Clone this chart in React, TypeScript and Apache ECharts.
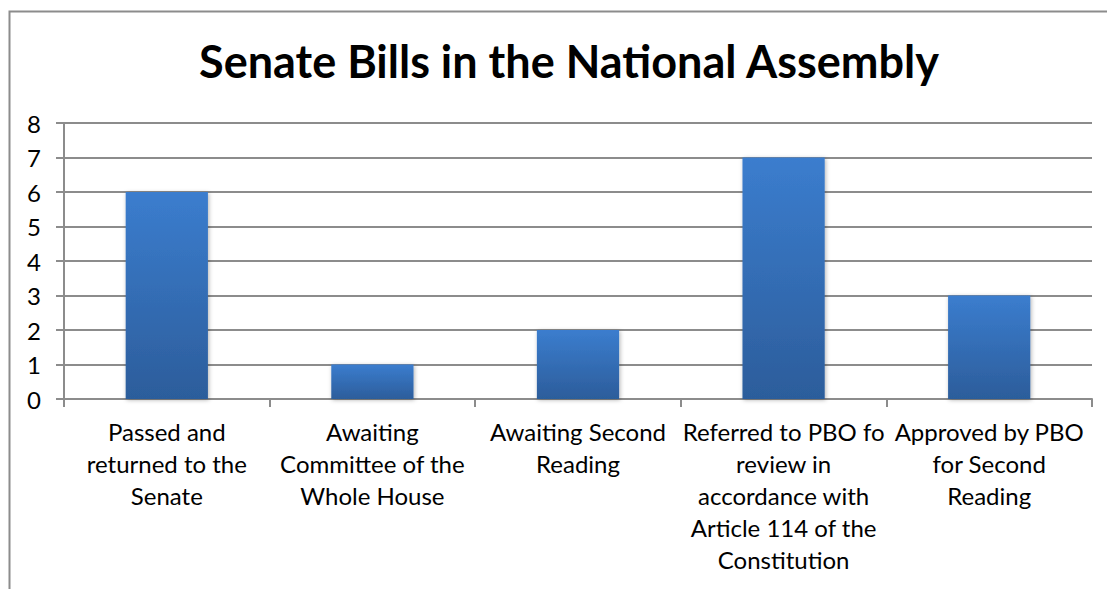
import React, { useEffect, useRef } from "react";
import * as echarts from "echarts";

const title = "Senate Bills in the National Assembly";
const categories = [
  "Passed and\nreturned to the\nSenate",
  "Awaiting\nCommittee of the\nWhole House",
  "Awaiting Second\nReading",
  "Referred to PBO fo\nreview in\naccordance with\nArticle 114 of the\nConstitution",
  "Approved by PBO\nfor Second\nReading",
];
const values = [6, 1, 2, 7, 3];
const yTicks = [0, 1, 2, 3, 4, 5, 6, 7, 8];

export default function App() {
  const ref = useRef<HTMLDivElement>(null);
  useEffect(() => {
    document.body.style.margin = "0";
    const chart = echarts.init(ref.current!, null, { renderer: "svg" });
    const font = "Lato, 'Open Sans', sans-serif";
    chart.setOption({
      animation: false,
      backgroundColor: "#ffffff",
      title: {
        text: title,
        left: 564,
        textAlign: "center",
        top: 33,
        textStyle: { fontFamily: font, fontWeight: "bold", fontSize: 45, color: "#000" },
      },
      graphic: [
        {
          type: "rect",
          shape: { x: 9.5, y: 11.5, width: 1110, height: 600 },
          style: { fill: "none", stroke: "#8c8c8c", lineWidth: 2 },
          silent: true,
        },
      ],
      grid: { left: 64, right: 15, top: 123, bottom: 190, containLabel: false },
      xAxis: {
        type: "category",
        data: categories,
        axisLine: { lineStyle: { color: "#8c8c8c", width: 2 } },
        axisTick: { show: true, length: 8, lineStyle: { color: "#8c8c8c", width: 2 } },
        axisLabel: {
          interval: 0,
          fontFamily: font,
          fontSize: 24,
          color: "#000",
          lineHeight: 32,
          margin: 16,
          align: "center",
        },
      },
      yAxis: {
        type: "value",
        min: 0,
        max: 8,
        interval: 1,
        axisLine: { show: true, lineStyle: { color: "#8c8c8c", width: 2 } },
        axisTick: { show: true, length: 8, lineStyle: { color: "#8c8c8c", width: 2 } },
        axisLabel: {
          fontFamily: font,
          fontSize: 24,
          color: "#000",
          margin: 23,
          formatter: (v: number) => (yTicks.includes(v) ? String(v) : ""),
        },
        splitLine: { lineStyle: { color: "#8c8c8c", width: 2 } },
      },
      series: [
        {
          type: "bar",
          data: values,
          barWidth: "40%",
          itemStyle: {
            color: new echarts.graphic.LinearGradient(0, 0, 0, 1, [
              { offset: 0, color: "#3b7dce" },
              { offset: 1, color: "#2c5d9b" },
            ]),
            shadowColor: "rgba(0,0,0,0.3)",
            shadowBlur: 4,
            shadowOffsetX: 1,
            shadowOffsetY: 1,
          },
        },
      ],
    });
    return () => chart.dispose();
  }, []);
  return <div ref={ref} style={{ width: 1107, height: 589 }} />;
}
